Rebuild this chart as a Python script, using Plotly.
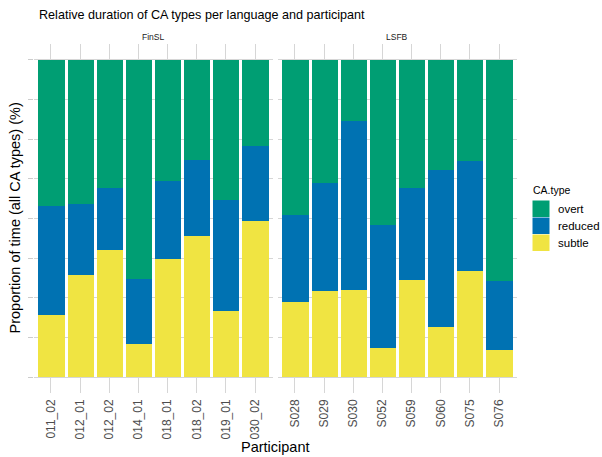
import plotly.graph_objects as go

# ---- data ----
finsl_participants = ["011_02", "012_01", "012_02", "014_01", "018_01", "018_02", "019_01", "030_02"]
finsl_subtle = [19.6, 32.1, 40.1, 10.6, 37.2, 44.6, 20.8, 49.3]
finsl_reduced = [34.3, 22.6, 19.6, 20.2, 24.6, 23.8, 34.9, 23.6]
finsl_overt = [46.1, 45.3, 40.3, 69.2, 38.2, 31.6, 44.3, 27.1]

lsfb_participants = ["S028", "S029", "S030", "S052", "S059", "S060", "S075", "S076"]
lsfb_subtle = [23.6, 27.1, 27.5, 9.1, 30.7, 15.8, 33.5, 8.7]
lsfb_reduced = [27.5, 34.0, 53.3, 38.9, 29.0, 49.4, 34.6, 21.6]
lsfb_overt = [48.9, 38.9, 19.2, 52.0, 40.3, 34.8, 31.9, 69.7]

ca_types = ["overt", "reduced", "subtle"]
ca_colors = {"overt": "#009E73", "reduced": "#0072B2", "subtle": "#F0E442"}
facets = ["FinSL", "LSFB"]
y_ticks = [0, 12.5, 25, 37.5, 50, 62.5, 75, 87.5, 100]

W, H = 602, 457
def px(x):
    return x / W
def py(y):
    return 1 - y / H

FONT = "Liberation Sans, Arial, sans-serif"
GRID = "#D6D6D6"

fig = go.Figure()

panels = [
    ("x", "y", finsl_participants, {"subtle": finsl_subtle, "reduced": finsl_reduced, "overt": finsl_overt}),
    ("x2", "y2", lsfb_participants, {"subtle": lsfb_subtle, "reduced": lsfb_reduced, "overt": lsfb_overt}),
]
for xa, ya, parts, vals in panels:
    for t in ["subtle", "reduced", "overt"]:
        fig.add_trace(go.Bar(
            x=parts, y=vals[t], name=t, xaxis=xa, yaxis=ya,
            marker=dict(color=ca_colors[t], line=dict(width=0)),
            width=0.9, showlegend=False, hoverinfo="x+y+name",
        ))

ydom = [py(393), py(44)]
common_x = dict(
    type="category", range=[-0.6, 7.6], showgrid=True, gridcolor=GRID, gridwidth=1,
    zeroline=False, showline=False, ticks="", tickangle=-90, ticklabelstandoff=3,
    tickfont=dict(family=FONT, size=12, color="#4D4D4D"),
)
common_y = dict(
    range=[-5, 105], tickvals=y_ticks, ticktext=[""] * len(y_ticks),
    showgrid=True, gridcolor=GRID, gridwidth=1, zeroline=False, showline=False,
    domain=ydom,
)

fig.update_layout(
    width=W, height=H,
    margin=dict(l=0, r=0, t=0, b=0),
    paper_bgcolor="white", plot_bgcolor="white",
    barmode="stack", bargap=0,
    xaxis=dict(domain=[px(33.5), px(272.5)], anchor="y", **common_x),
    xaxis2=dict(domain=[px(277.5), px(516.5)], anchor="y2", **common_x),
    yaxis=dict(anchor="x", ticks="outside", ticklen=5, tickcolor="#CCCCCC", **common_y),
    yaxis2=dict(anchor="x2", matches="y", ticks="", **common_y),
    font=dict(family=FONT),
)

ann = []
# title
ann.append(dict(text="Relative duration of CA types per language and participant",
                x=px(37), y=py(15), xref="paper", yref="paper", xanchor="left", yanchor="middle",
                showarrow=False, font=dict(family=FONT, size=12.6, color="#000000")))
# strip labels
for name, cx in zip(facets, [153, 397]):
    ann.append(dict(text=name, x=px(cx), y=py(36.5), xref="paper", yref="paper",
                    xanchor="center", yanchor="middle", showarrow=False,
                    font=dict(family=FONT, size=8.5, color="#1A1A1A")))
# axis titles
ann.append(dict(text="Participant", x=px(275), y=py(447), xref="paper", yref="paper",
                xanchor="center", yanchor="middle", showarrow=False,
                font=dict(family=FONT, size=14.5, color="#000000")))
ann.append(dict(text="Proportion of time (all CA types) (%)", x=px(14), y=py(218.5), xref="paper",
                yref="paper", xanchor="center", yanchor="middle", textangle=-90, showarrow=False,
                font=dict(family=FONT, size=14.5, color="#000000")))
# legend
ann.append(dict(text="CA.type", x=px(531), y=py(190.5), xref="paper", yref="paper",
                xanchor="left", yanchor="middle", showarrow=False,
                font=dict(family=FONT, size=10.5, color="#000000")))
shapes = []
for i, t in enumerate(ca_types):
    top = 200.5 + 17 * i
    shapes.append(dict(type="rect", xref="paper", yref="paper",
                       x0=px(532.5), x1=px(549.5), y0=py(top + 16.5), y1=py(top),
                       fillcolor=ca_colors[t], line=dict(width=0)))
    ann.append(dict(text=t, x=px(555.5), y=py(top + 8.5), xref="paper", yref="paper",
                    xanchor="left", yanchor="middle", showarrow=False,
                    font=dict(family=FONT, size=11.5, color="#000000")))

fig.update_layout(annotations=ann, shapes=shapes)
fig.write_html("out.html", config={"displayModeBar": False},
               post_script="document.body.style.margin='0';document.body.style.overflow='hidden';")
